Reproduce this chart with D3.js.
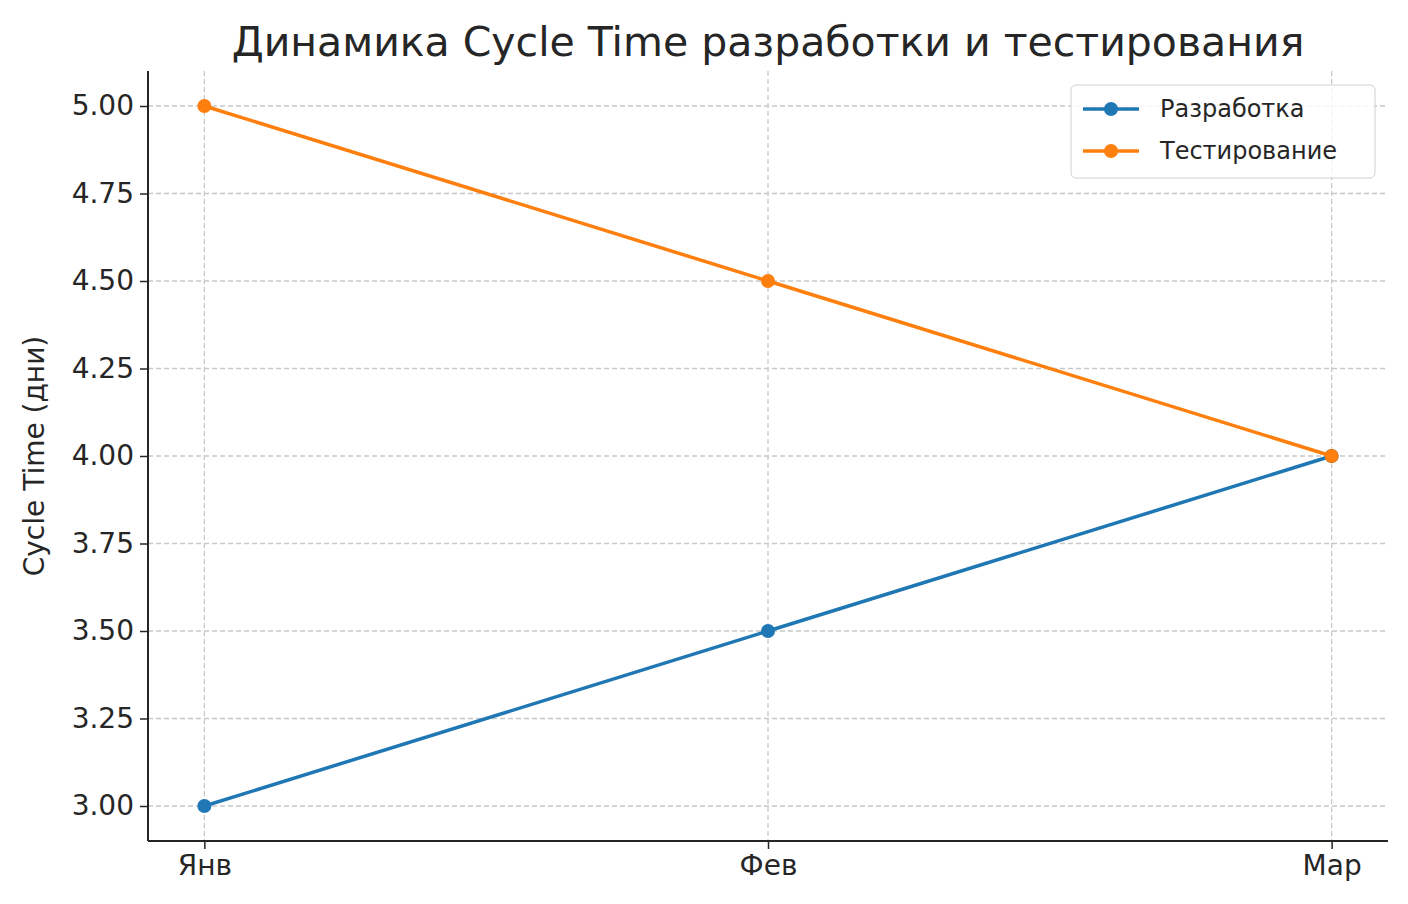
<!DOCTYPE html>
<html><head><meta charset="utf-8">
<script src="https://cdn.jsdelivr.net/npm/d3@7/dist/d3.min.js"></script>
<style>body{margin:0;background:#fff}text{font-family:"DejaVu Sans",sans-serif;fill:#262626}</style>
</head><body>
<script>
// chart data
var months = ["Янв", "Фев", "Мар"]
var devValues = [3.0, 3.5, 4.0]
var testValues = [5.0, 4.5, 4.0]
var yTicks = [3.00, 3.25, 3.50, 3.75, 4.00, 4.25, 4.50, 4.75, 5.00]
var seriesNames = ["Разработка", "Тестирование"]
var colors = ["#1f77b4", "#ff7f0e"]

var width = 1408, height = 904
var plotLeft = 148, plotRight = 1388, plotTop = 71, plotBottom = 841

var svg = d3.select("body").append("svg").attr("width", width).attr("height", height)

var x = d3.scaleLinear().domain([-0.1, 2.1]).range([plotLeft, plotRight])
var y = d3.scaleLinear().domain([2.9, 5.1]).range([plotBottom, plotTop])

// grid
svg.append("g").selectAll("line").data(yTicks).enter().append("line")
  .attr("x1", plotLeft).attr("x2", plotRight).attr("y1", d => y(d)).attr("y2", d => y(d))
  .attr("stroke", "#c8c8c8").attr("stroke-dasharray", "5,3").attr("stroke-width", 1.3)
svg.append("g").selectAll("line").data(months).enter().append("line")
  .attr("y1", plotTop).attr("y2", plotBottom).attr("x1", (d, i) => x(i)).attr("x2", (d, i) => x(i))
  .attr("stroke", "#c8c8c8").attr("stroke-dasharray", "5,3").attr("stroke-width", 1.3)

// axes
var yAxis = d3.axisLeft(y).tickValues(yTicks).tickFormat(d3.format(".2f")).tickSize(8).tickPadding(6)
var gy = svg.append("g").attr("transform", "translate(" + plotLeft + ",0)").call(yAxis)
var xAxis = d3.axisBottom(x).tickValues([0, 1, 2]).tickFormat(i => months[i]).tickSize(8).tickPadding(6)
var gx = svg.append("g").attr("transform", "translate(0," + plotBottom + ")").call(xAxis)
;[gx, gy].forEach(g => {
  g.selectAll("text").style("font-size", "28px").style("font-family", "DejaVu Sans")
  g.selectAll("line").attr("stroke", "#262626").attr("stroke-width", 1.5)
  g.select(".domain").attr("stroke", "#262626").attr("stroke-width", 2).attr("d",
    g === gx ? "M" + plotLeft + ",0H" + plotRight : "M0," + plotTop + "V" + plotBottom)
})

// lines
var line = d3.line().x((d, i) => x(i)).y(d => y(d))
;[devValues, testValues].forEach((vals, k) => {
  svg.append("path").datum(vals).attr("d", line).attr("fill", "none")
    .attr("stroke", colors[k]).attr("stroke-width", 3.5)
  svg.append("g").selectAll("circle").data(vals).enter().append("circle")
    .attr("cx", (d, i) => x(i)).attr("cy", d => y(d)).attr("r", 7).attr("fill", colors[k])
})

// title and labels
svg.append("text").attr("x", (plotLeft + plotRight) / 2).attr("y", 56).attr("text-anchor", "middle")
  .style("font-size", "41px").text("Динамика Cycle Time разработки и тестирования")
svg.append("text").attr("transform", "translate(44," + ((plotTop + plotBottom) / 2) + ") rotate(-90)")
  .attr("text-anchor", "middle").style("font-size", "28px").text("Cycle Time (дни)")

// legend
var lg = svg.append("g").attr("transform", "translate(1071,85)")
lg.append("rect").attr("width", 304).attr("height", 93).attr("rx", 5)
  .attr("fill", "#fff").attr("fill-opacity", 0.8).attr("stroke", "#d0d0d0")
seriesNames.forEach((n, k) => {
  var yy = 24 + k * 42
  lg.append("line").attr("x1", 12).attr("x2", 68).attr("y1", yy).attr("y2", yy)
    .attr("stroke", colors[k]).attr("stroke-width", 3.5)
  lg.append("circle").attr("cx", 40).attr("cy", yy).attr("r", 7).attr("fill", colors[k])
  lg.append("text").attr("x", 89).attr("y", yy + 8).style("font-size", "24px").text(n)
})
</script>
</body></html>
